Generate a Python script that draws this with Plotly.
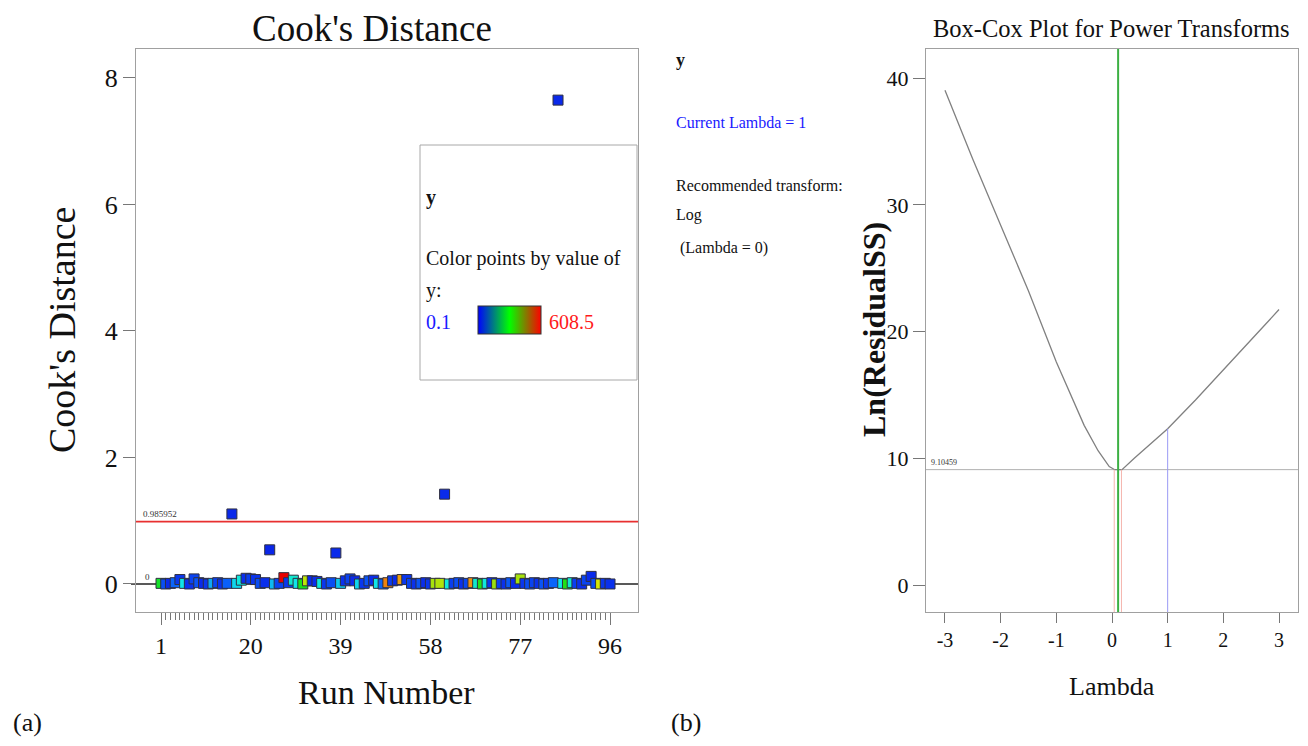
import plotly.graph_objects as go

W, H = 1308, 746
def px(x): return x / W
def py(y): return 1 - y / H

FONT = "Liberation Serif"

# ---------------- data: Cook's distance ----------------
runs = list(range(1, 97))
cooks = [0.01, 0.0, 0.01, 0.02, 0.07, 0.01, 0.0, 0.08, 0.02, 0.01,
         0.0, 0.01, 0.02, 0.0, 0.01, 1.107, 0.01, 0.06, 0.09, 0.08,
         0.07, 0.01, 0.02, 0.54, 0.0, 0.01, 0.1, 0.02, 0.06, 0.01,
         0.0, 0.05, 0.05, 0.04, 0.01, 0.0, 0.02, 0.49, 0.01, 0.05,
         0.08, 0.05, 0.0, 0.01, 0.05, 0.06, 0.01, 0.0, 0.02, 0.05,
         0.06, 0.07, 0.07, 0.01, 0.0, 0.01, 0.02, 0.0, 0.01, 0.01,
         1.42, 0.0, 0.01, 0.02, 0.0, 0.01, 0.02, 0.01, 0.0, 0.01,
         0.02, 0.0, 0.01, 0.0, 0.02, 0.01, 0.08, 0.01, 0.0, 0.02,
         0.01, 0.0, 0.01, 0.02, 7.65, 0.01, 0.0, 0.02, 0.01, 0.0,
         0.06, 0.12, 0.01, 0.0, 0.01, 0.0]
response = [290, 40, 10, 60, 20, 150, 15, 30, 45, 10,
            20, 110, 30, 15, 55, 8, 140, 160, 12, 25,
            18, 40, 12, 5, 120, 30, 608.5, 20, 170, 150,
            300, 420, 8, 12, 160, 20, 40, 10, 130, 15,
            30, 10, 140, 20, 45, 12, 150, 60, 540, 25,
            10, 520, 20, 30, 15, 45, 12, 20, 400, 410,
            10, 160, 25, 40, 15, 35, 530, 170, 310, 160,
            20, 390, 30, 15, 50, 12, 400, 20, 40, 30,
            15, 45, 20, 60, 8, 150, 310, 170, 25, 12,
            30, 10, 40, 440, 20, 15]
resp_min, resp_max = 0.1, 608.5
cook_limit = 0.985952
cook_zero = 0
run_ticks = [1, 20, 39, 58, 77, 96]

# ---------------- data: Box-Cox ----------------
lam = [-3, -2.5, -2, -1.5, -1, -0.5, -0.25, -0.05, 0.05, 0.18, 0.4, 1, 1.5, 2, 2.5, 3]
ln_rss = [39.05, 33.6, 28.4, 23.2, 17.6, 12.6, 10.6, 9.35, 9.10, 9.10, 10.0, 12.33, 14.6, 16.95, 19.35, 21.74]
ln_rss_min = 9.10459
lam_best = 0.11
lam_ci = [0.04, 0.17]
lam_current = 1
ln_rss_current = 12.33
lam_ticks = [-3, -2, -1, 0, 1, 2, 3]
ln_ticks = [0, 10, 20, 30, 40]

xr1 = [-4.29, 101.92]
yr1 = [-0.443, 8.458]
xr2 = [-3.341, 3.341]
yr2 = [-2.13, 42.3]

point_scale = [[0, '#0a20e8'], [0.125, '#0a78ff'], [0.25, '#10e8e8'], [0.375, '#10e878'],
               [0.5, '#18e018'], [0.625, '#90e010'], [0.75, '#e8e800'], [0.875, '#f09010'],
               [1, '#e80000']]
legend_scale = [[0, '#0000ff'], [0.5, '#00ff00'], [1, '#ff0000']]

fig = go.Figure()

fig.add_trace(go.Scatter(
    x=runs, y=cooks, mode='markers', xaxis='x', yaxis='y',
    marker=dict(symbol='square', size=10, color=response, colorscale=point_scale,
                cmin=resp_min, cmax=resp_max, line=dict(color='#303040', width=1)),
    showlegend=False, hoverinfo='x+y'))

# colour key (legend bar)
fig.add_trace(go.Scatter(
    x=runs[:2], y=cooks[:2], mode='markers', xaxis='x', yaxis='y', opacity=0,
    marker=dict(color=[resp_min, resp_max], colorscale=legend_scale, cmin=resp_min, cmax=resp_max,
                showscale=True,
                colorbar=dict(orientation='h', x=px(509.5), xanchor='center', y=py(335), yanchor='bottom',
                              len=63 / W, lenmode='fraction', thickness=28, thicknessmode='pixels',
                              xpad=0, ypad=0, outlinewidth=1, outlinecolor='#333',
                              ticks='', showticklabels=False)),
    showlegend=False, hoverinfo='skip'))

# Box-Cox curve
fig.add_trace(go.Scatter(x=lam, y=ln_rss, mode='lines', xaxis='x2', yaxis='y2',
                         line=dict(color='#808080', width=1.3), showlegend=False))
# CI lines
for lc in lam_ci:
    fig.add_trace(go.Scatter(x=[lc, lc], y=[yr2[0], ln_rss_min], mode='lines', xaxis='x2', yaxis='y2',
                             line=dict(color='#f5b5ae', width=1), showlegend=False, hoverinfo='skip'))
# current lambda
fig.add_trace(go.Scatter(x=[lam_current, lam_current], y=[yr2[0], ln_rss_current], mode='lines',
                         xaxis='x2', yaxis='y2', line=dict(color='#9a9af5', width=1),
                         showlegend=False, hoverinfo='skip'))

shapes = [
    dict(type='line', xref='x domain', yref='y', x0=0, x1=1, y0=cook_limit, y1=cook_limit,
         line=dict(color='#e83030', width=1.6), layer='below'),
    dict(type='line', xref='x domain', yref='y', x0=-0.01, x1=1, y0=cook_zero, y1=cook_zero,
         line=dict(color='#222222', width=1.3), layer='below'),
    dict(type='line', xref='x2 domain', yref='y2', x0=0, x1=1, y0=ln_rss_min, y1=ln_rss_min,
         line=dict(color='#b0b0b0', width=1), layer='below'),
    dict(type='line', xref='x2', yref='y2 domain', x0=lam_best, x1=lam_best, y0=0, y1=1,
         line=dict(color='#3cb043', width=2)),
    dict(type='rect', xref='paper', yref='paper', x0=px(420), x1=px(637), y0=py(380), y1=py(145),
         line=dict(color='#a8a8a8', width=1)),
]

def ann(text, x, y, size, color='#111', xanchor='center', yanchor='middle', angle=0, bold=False):
    if bold:
        text = '<b>' + text + '</b>'
    return dict(text=text, x=px(x), y=py(y), xref='paper', yref='paper', showarrow=False,
                xanchor=xanchor, yanchor=yanchor, textangle=angle,
                font=dict(family=FONT, size=size, color=color))

annotations = [
    ann("Cook's Distance", 372, 28, 37),
    ann("Cook's Distance", 62, 330, 38, angle=-90),
    ann("Run Number", 386, 692, 34),
    ann("(a)", 27, 722, 26),
    ann("(b)", 686, 722, 26),
    ann("0.985952", 141, 514, 9, color='#333', xanchor='left'),
    ann("0", 143, 577, 9, color='#333', xanchor='left'),
    ann("y", 424, 197, 20, xanchor='left', bold=True),
    ann("Color points by value of", 424, 258, 20, xanchor='left'),
    ann("y:", 424, 290, 20, xanchor='left'),
    ann("0.1", 424, 322, 20, color='#1a1aff', xanchor='left'),
    ann("608.5", 547, 322, 20, color='#ff1a1a', xanchor='left'),
    ann("y", 674, 60, 18, xanchor='left', bold=True),
    ann("Current Lambda = 1", 674, 122, 16, color='#1a1aff', xanchor='left'),
    ann("Recommended transform:", 674, 185, 16, xanchor='left'),
    ann("Log", 674, 215, 16, xanchor='left'),
    ann(" (Lambda = 0)", 674, 248, 16, xanchor='left'),
    ann("Box-Cox Plot for Power Transforms", 1111, 28, 24.5),
    ann("Ln(ResidualSS)", 874, 330, 32, angle=-90, bold=True),
    ann("Lambda", 1112, 686, 26),
    ann("9.10459", 929, 462, 8, color='#333', xanchor='left'),
]

axis_common = dict(showline=True, linecolor='#a0a0a0', linewidth=1, mirror=True, showgrid=False,
                   zeroline=False, ticks='outside', tickcolor='#777', tickwidth=1)

fig.update_layout(
    width=W, height=H, margin=dict(l=0, r=0, t=0, b=0),
    paper_bgcolor='white', plot_bgcolor='white',
    font=dict(family=FONT, color='#111'),
    xaxis=dict(**axis_common, domain=[px(136), px(638)], range=xr1, anchor='y',
               tickmode='array', tickvals=run_ticks, ticklen=12,
               tickfont=dict(family=FONT, size=24),
               minor=dict(tickmode='array', tickvals=runs, ticklen=7, ticks='outside', tickcolor='#777')),
    yaxis=dict(**axis_common, domain=[py(612), py(49)], range=yr1, anchor='x',
               tickmode='array', tickvals=[0, 2, 4, 6, 8], ticklen=12,
               tickfont=dict(family=FONT, size=26)),
    xaxis2=dict(**axis_common, domain=[px(926), px(1298)], range=xr2, anchor='y2',
                tickmode='array', tickvals=lam_ticks, ticktext=[str(v) for v in lam_ticks], ticklen=10,
                tickfont=dict(family=FONT, size=20)),
    yaxis2=dict(**axis_common, domain=[py(612), py(49)], range=yr2, anchor='x2',
                tickmode='array', tickvals=ln_ticks, ticklen=12,
                tickfont=dict(family=FONT, size=22)),
    shapes=shapes, annotations=annotations,
)

fig.write_html("out.html")
